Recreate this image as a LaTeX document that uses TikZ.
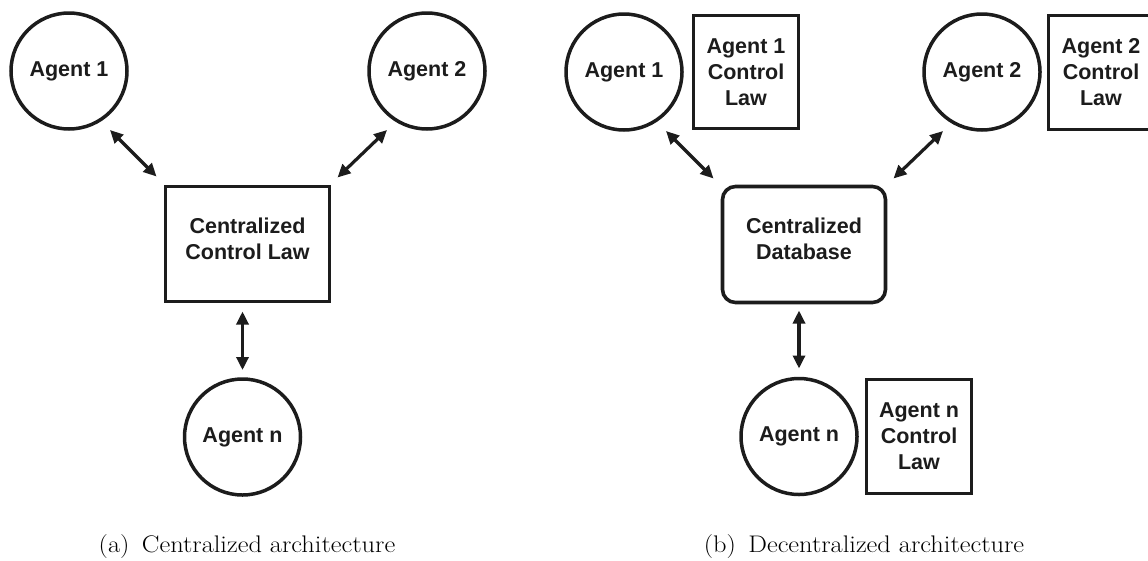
\documentclass[tikz,border=0pt]{standalone}
\usepackage{fontspec}
\setmainfont{Latin Modern Roman}
\newfontfamily\labelfont{Liberation Sans}[BoldFont={Liberation Sans Bold}]
\usetikzlibrary{arrows.meta,calc}
\definecolor{ink}{HTML}{1C1C1C}
\tikzset{
  agent/.style={circle, draw=ink, line width=3.5pt, minimum size=116pt,
    inner sep=0pt, outer sep=0pt, text=ink,
    font=\labelfont\bfseries\fontsize{21.5}{26}\selectfont},
  lawbox/.style={rectangle, draw=ink, line width=3.6pt, inner sep=0pt, outer sep=0pt,
    align=center, text=ink,
    font=\labelfont\bfseries\fontsize{21.5}{26}\selectfont},
  link/.style={draw=ink, line width=3.2pt,
    {Triangle[length=13pt,width=12pt]}-{Triangle[length=13pt,width=12pt]}},
  caption/.style={font=\fontsize{24}{28}\selectfont, text=black, inner sep=0pt,
    xscale=1.1, transform shape}
}
\begin{document}
\begin{tikzpicture}[x=1pt,y=-1pt]
\useasboundingbox (0,0) rectangle (1148,560);
\clip (0,0) rectangle (1148,560);

% ---- (a) centralized architecture ----
\node[agent] (a1) at (69,71) {Agent 1};
\node[agent] (a2) at (427,71) {Agent 2};
\node[agent] (an) at (242.5,437) {Agent n};
\node[lawbox, minimum width=164pt, minimum height=115pt] (ccl) at (247.5,244) {};
\node[lawbox, draw=none] (ccltext) at (247.5,239) {Centralized\\Control Law};

\draw[link] ($(a1)+(41,59)$) -- ($(ccl.north west)+(-9,-10)$);
\draw[link] ($(a2)+(-40,59)$) -- ($(ccl.north east)+(8,-9)$);
\draw[link] ($(an.north |- ccl.south)+(0,10)$) -- ($(an.north)+(0,-9)$);

\node[caption] (capa) at (247,547) {(a)\, Centralized architecture};

% ---- (b) decentralized architecture ----
\node[agent] (b1) at (624,72) {Agent 1};
\node[agent] (b2) at (982,72) {Agent 2};
\node[agent] (bn) at (799,436.5) {Agent n};

\node[lawbox, minimum width=105pt, minimum height=113pt] (b1law) at (746,72)
  {Agent 1\\Control\\Law};
\node[lawbox, minimum width=105pt, minimum height=114pt] (b2law) at (1101,72.5)
  {Agent 2\\Control\\Law};
\node[lawbox, minimum width=105pt, minimum height=114pt] (bnlaw) at (919,436.5)
  {Agent n\\Control\\Law};

\node[lawbox, rounded corners=13pt, minimum width=163pt, minimum height=116pt] (db)
  at (804,244.5) {};
\node[lawbox, draw=none] (dbtext) at (804,239) {Centralized\\Database};

\draw[link] ($(b1)+(42,59)$) -- ($(db.north west)+(-9,-8)$);
\draw[link] ($(b2)+(-39,59)$) -- ($(db.north east)+(8,-8)$);
\draw[link] ($(bn.north |- db.south)+(0,8)$) -- ($(bn.north)+(0,-10)$);

\node[caption] (capb) at (864,547) {(b)\, Decentralized architecture};
\end{tikzpicture}
\end{document}
